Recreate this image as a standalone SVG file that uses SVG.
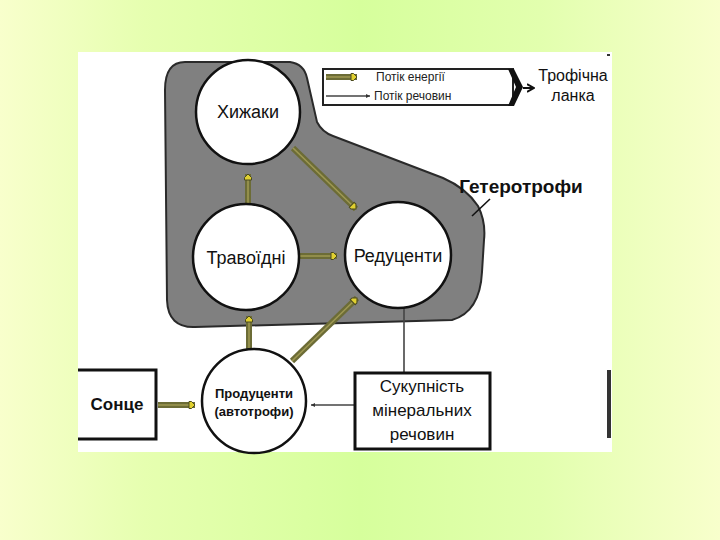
<svg xmlns="http://www.w3.org/2000/svg" width="720" height="540" viewBox="0 0 720 540">
<defs>
<linearGradient id="bg" x1="0" y1="0" x2="1" y2="0">
<stop offset="0" stop-color="#f8ffcc"/>
<stop offset="0.2" stop-color="#e6ffb0"/>
<stop offset="0.5" stop-color="#d6ff9c"/>
<stop offset="0.75" stop-color="#e2ffae"/>
<stop offset="1" stop-color="#f8ffcc"/>
</linearGradient>
<marker id="eh" viewBox="-1 -5 9 10" markerWidth="9" markerHeight="10" refX="6" refY="0" orient="auto" markerUnits="userSpaceOnUse">
<path d="M0,-3.5 L2.5,-3.5 L6,0 L2.5,3.5 L0,3.5 Z" fill="#e0d030" stroke="#4a4a20" stroke-width="1"/>
</marker>
<marker id="mh" viewBox="0 -3 6 6" markerWidth="5" markerHeight="5" refX="5" refY="0" orient="auto" markerUnits="userSpaceOnUse">
<path d="M0,-2.5 L5,0 L0,2.5 Z" fill="#333"/>
</marker>
<marker id="bh" viewBox="0 -5 8 10" markerWidth="8" markerHeight="10" refX="7" refY="0" orient="auto" markerUnits="userSpaceOnUse">
<path d="M0,-4 L7,0 L0,4" fill="none" stroke="#111" stroke-width="2"/>
</marker>
</defs>
<style>
.node{fill:#fff;stroke:#111;stroke-width:2.5}
.t{font-family:"Liberation Sans",Arial,sans-serif;fill:#111;text-anchor:middle}
.eo{stroke:#6c6c36;stroke-width:6;fill:none}
.ei{stroke:#9e9852;stroke-width:1.6;fill:none}
.m{stroke:#444;stroke-width:1.6;fill:none}
</style>
<rect width="720" height="540" fill="url(#bg)"/>
<rect x="78" y="52" width="534" height="400" fill="#fff"/>
<rect x="607" y="54" width="3" height="2" fill="#333"/>
<rect x="607" y="370" width="4" height="68" fill="#333"/>

<g id="heterotrophs">
<path d="M185,62 L290,62 Q304,64 307,78 L317,122 Q322,132 333,136 L443,178 Q466,188 478,206 Q486,222 484,240 L482,272 Q480,312 452,320 L195,327 Q168,328 167,300 L165,90 Q165,62 185,62 Z" fill="#808080" stroke="#2a2a2a" stroke-width="2"/>
<line x1="490" y1="199" x2="472" y2="216" stroke="#111" stroke-width="1.6"/>
<text class="t" x="521" y="193" font-size="19" font-weight="bold">Гетеротрофи</text>
</g>

<g id="legend">
<rect x="323" y="69" width="190" height="36" fill="#fff" stroke="#222" stroke-width="2"/>
<path d="M508,69 L514,69 L523,87 L514,106 L508,106 L516,87 Z" fill="#111"/>
<line x1="523" y1="88" x2="534" y2="88" stroke="#111" stroke-width="2" marker-end="url(#bh)"/>
<line x1="326" y1="77" x2="357" y2="77" class="eo" stroke-width="4"/>
<line x1="326" y1="77" x2="357" y2="77" class="ei" stroke-width="1.2" marker-end="url(#eh)"/>
<text x="376" y="81" font-family="Liberation Sans,Arial,sans-serif" font-size="12" fill="#222">Потік енергії</text>
<line x1="326" y1="96" x2="370" y2="96" class="m" marker-end="url(#mh)"/>
<text x="374" y="100" font-family="Liberation Sans,Arial,sans-serif" font-size="12" fill="#222">Потік речовин</text>
<text class="t" x="573" y="81" font-size="16">Трофічна</text>
<text class="t" x="573" y="101" font-size="16">ланка</text>
</g>

<g id="connectors">
<line class="eo" x1="248" y1="204" x2="248" y2="174"/>
<line class="ei" x1="248" y1="204" x2="248" y2="174" marker-end="url(#eh)"/>
<line class="eo" x1="293" y1="148" x2="356" y2="209"/>
<line class="ei" x1="293" y1="148" x2="356" y2="209" marker-end="url(#eh)"/>
<line class="eo" x1="300" y1="256" x2="337" y2="256"/>
<line class="ei" x1="300" y1="256" x2="337" y2="256" marker-end="url(#eh)"/>
<line class="eo" x1="249" y1="350" x2="249" y2="316"/>
<line class="ei" x1="249" y1="350" x2="249" y2="316" marker-end="url(#eh)"/>
<line class="eo" x1="292" y1="361" x2="357" y2="298"/>
<line class="ei" x1="292" y1="361" x2="357" y2="298" marker-end="url(#eh)"/>
<line class="eo" x1="158" y1="405" x2="195" y2="405"/>
<line class="ei" x1="158" y1="405" x2="195" y2="405" marker-end="url(#eh)"/>
<line class="m" x1="355" y1="405" x2="311" y2="405" marker-end="url(#mh)"/>
<line class="m" x1="404" y1="307" x2="404" y2="373"/>
</g>

<g id="predators">
<circle class="node" cx="248" cy="112" r="52"/>
<text class="t" x="248" y="118" font-size="18">Хижаки</text>
</g>
<g id="herbivores">
<circle class="node" cx="246" cy="257" r="53"/>
<text class="t" x="246" y="264" font-size="18">Травоїдні</text>
</g>
<g id="reducers">
<circle class="node" cx="398" cy="255" r="53"/>
<text class="t" x="398" y="262" font-size="18">Редуценти</text>
</g>
<g id="producers">
<circle class="node" cx="254" cy="401" r="52" stroke-width="2"/>
<text class="t" x="254" y="398" font-size="13" font-weight="bold">Продуценти</text>
<text class="t" x="254" y="416" font-size="13" font-weight="bold">(автотрофи)</text>
</g>
<g id="sun">
<path d="M78,370 L156,370 L156,439 L78,439" fill="#fff" stroke="#111" stroke-width="3"/>
<text class="t" x="117" y="410" font-size="17" font-weight="bold">Сонце</text>
</g>
<g id="minerals">
<rect x="355" y="373" width="135" height="76" fill="#fff" stroke="#111" stroke-width="3"/>
<text class="t" x="422" y="392" font-size="17">Сукупність</text>
<text class="t" x="422" y="416" font-size="17">мінеральних</text>
<text class="t" x="422" y="440" font-size="17">речовин</text>
</g>
</svg>
